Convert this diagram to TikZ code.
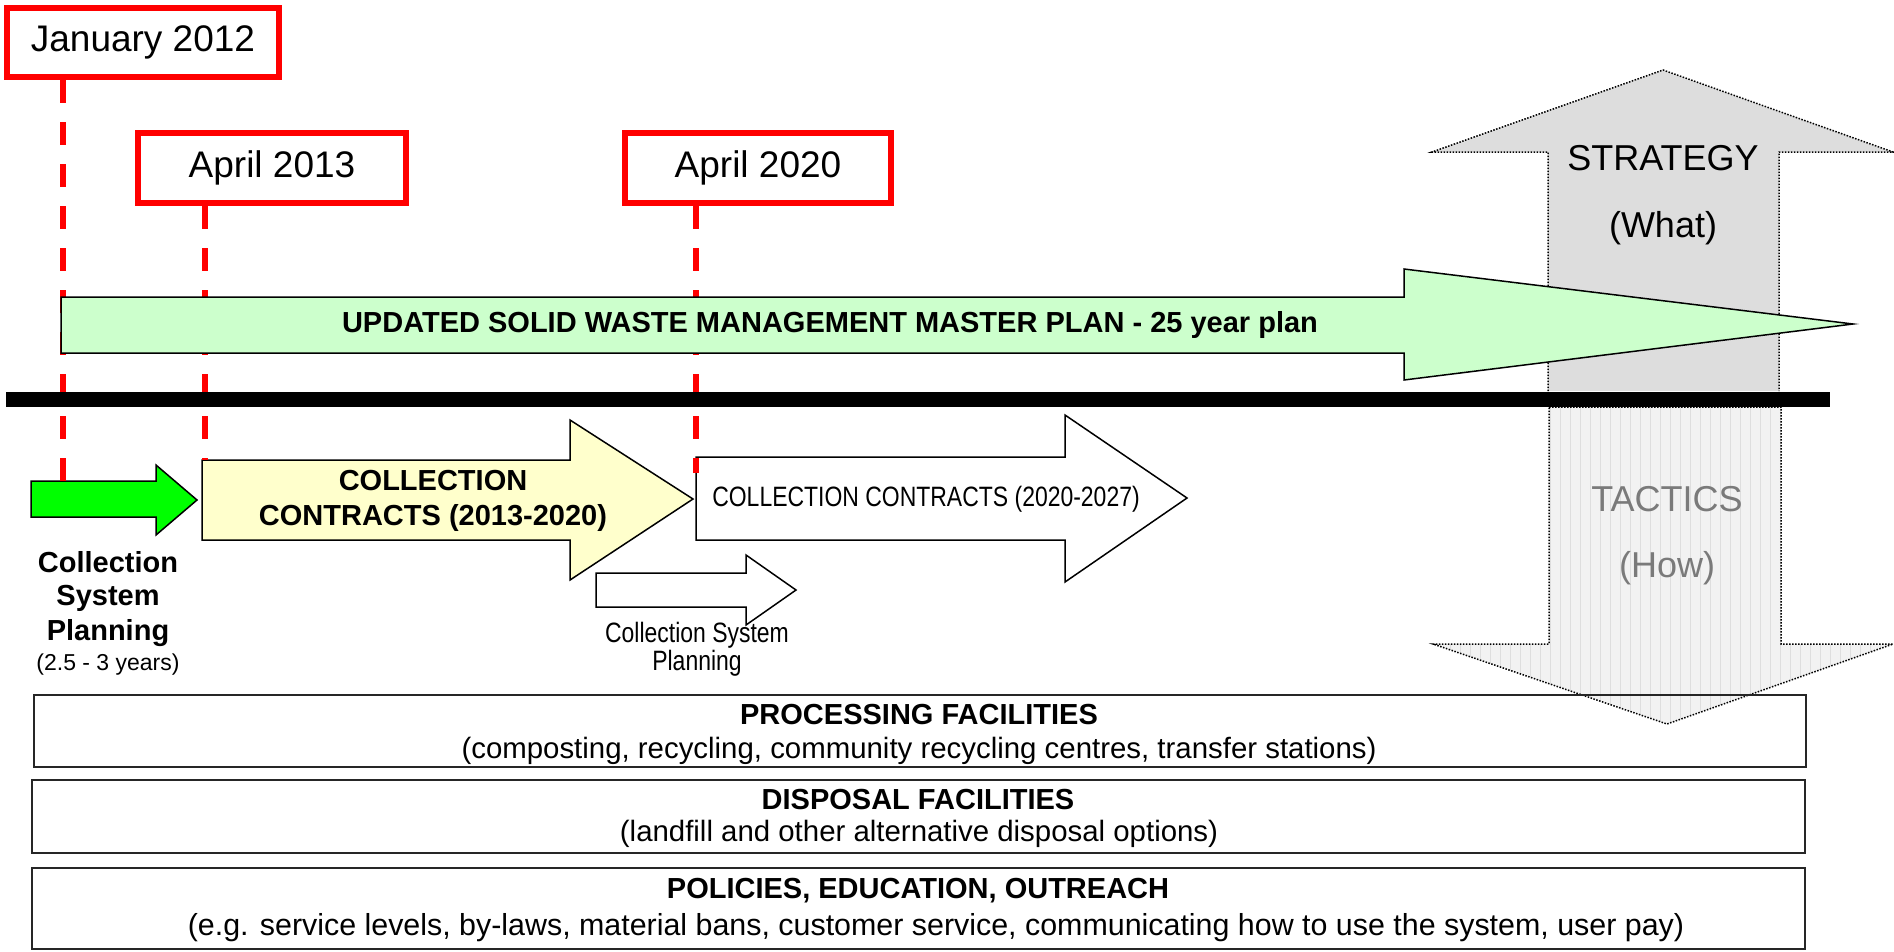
\documentclass[tikz,border=0pt]{standalone}
\usepackage{fontspec}
\setmainfont{Liberation Sans}
\newfontfamily\narrowfont{Liberation Sans}[FakeStretch=0.82]
\definecolor{mgreen}{HTML}{CCFFCC}
\definecolor{bgreen}{HTML}{00FF00}
\definecolor{pyellow}{HTML}{FFFFCC}
\definecolor{sgray}{HTML}{DDDDDD}
\definecolor{tgray}{HTML}{F2F2F2}
\definecolor{gridgray}{HTML}{DEDEDE}
\definecolor{dred}{HTML}{FF0000}
\tikzset{
  datebox/.style={draw=dred, line width=6, fill=white, inner sep=0, font=\fontsize{37}{44}\selectfont},
  datedash/.style={draw=dred, line width=6, dash pattern=on 23 off 19},
  arrowshape/.style={draw=black, line width=1.5, line join=miter},
  dotborder/.style={draw=black, line width=1.5, dash pattern=on 1.5 off 1.5},
  infobox/.style={draw=black!85, line width=1.5},
  boldtxt/.style={font=\fontsize{29}{35}\selectfont\bfseries, inner sep=0},
  normtxt/.style={font=\fontsize{29.4}{35}\selectfont, inner sep=0},
  bigtxt/.style={font=\fontsize{36}{43}\selectfont, inner sep=0},
  narrowtxt/.style={font=\fontsize{28}{28}\selectfont\narrowfont, inner sep=0, align=center},
}
\begin{document}
\begin{tikzpicture}[x=1pt,y=-1pt]
\useasboundingbox (0,0) rectangle (1894,951);

% Strategy (up) arrow
\fill[sgray] (1663,70) -- (1893,152) -- (1779,152) -- (1779,391) -- (1548,391) -- (1548,152) -- (1432,152) -- cycle;
\draw[dotborder] (1548,391) -- (1548,152) -- (1432,152) -- (1663,70) -- (1893,152) -- (1779,152) -- (1779,391);

% Tactics (down) arrow
\begin{scope}
\clip (1549,407) -- (1781,407) -- (1781,644) -- (1893,644) -- (1667,724) -- (1433,644) -- (1549,644) -- cycle;
\fill[tgray] (1420,400) rectangle (1894,730);
\draw[gridgray, line width=0.5, step=10] (1420,400) grid (1894,730);
\end{scope}
\draw[dotborder] (1549,407) -- (1781,407) -- (1781,644) -- (1893,644) -- (1667,724) -- (1433,644) -- (1549,644) -- cycle;

% bottom boxes
\draw[infobox] (34,695) rectangle (1806,767);
\draw[infobox] (32,780) rectangle (1805,853);
\draw[infobox] (32,868) rectangle (1805,949);

% lower arrows
\draw[arrowshape, fill=bgreen] (31,481) -- (156,481) -- (156,465) -- (197,500) -- (156,535) -- (156,517) -- (31,517) -- cycle;
\draw[arrowshape, fill=pyellow] (202,460) -- (570,460) -- (570,420) -- (693,499) -- (570,580) -- (570,540) -- (202,540) -- cycle;
\draw[arrowshape, fill=white] (696,457) -- (1065,457) -- (1065,415) -- (1187,498) -- (1065,582) -- (1065,540) -- (696,540) -- cycle;
\draw[arrowshape, fill=white] (596,573) -- (746,573) -- (746,555) -- (796,590) -- (746,625) -- (746,607) -- (596,607) -- cycle;

% date boxes
\node[datebox, minimum width=272, minimum height=69] (jan) at (143,42.5) {January 2012};
\node[datebox, minimum width=268, minimum height=70] (apr13) at (272,168) {April 2013};
\node[datebox, minimum width=266, minimum height=70] (apr20) at (758,168) {April 2020};

% dashed date lines
\coordinate (j1) at (63,80);   \coordinate (j2) at (63,481);
\coordinate (a1) at (205,206); \coordinate (a2) at (205,460);
\coordinate (b1) at (696,206); \coordinate (b2) at (696,473);
\draw[datedash] (j1) -- (j2);
\draw[datedash] (a1) -- (a2);
\draw[datedash] (b1) -- (b2);

% master plan arrow
\draw[arrowshape, fill=mgreen] (61,297) -- (1404,297) -- (1404,269) -- (1853,324) -- (1404,380) -- (1404,353) -- (61,353) -- cycle;
\node[boldtxt] (master) at (830,325) {UPDATED SOLID WASTE MANAGEMENT MASTER PLAN - 25 year plan};

% black divider
\fill[black] (6,392) rectangle (1830,407);

% strategy / tactics labels
\node[bigtxt] (strat) at (1663,158) {STRATEGY};
\node[bigtxt] (what) at (1663,228) {(What)};
\node[bigtxt, text=black!52] (tact) at (1667,499) {TACTICS};
\node[bigtxt, text=black!52] (how) at (1667,568) {(How)};

% lower arrow labels
\node[boldtxt] (csp1) at (108,562) {Collection};
\node[boldtxt] (csp2) at (108,598) {System};
\node[boldtxt] (csp3) at (108,633) {Planning};
\node[font=\fontsize{23}{28}\selectfont, inner sep=0] (csp4) at (108,665) {(2.5 - 3 years)};
\node[boldtxt] (cc1) at (433,481) {COLLECTION};
\node[boldtxt] (cc2) at (433,518) {CONTRACTS (2013-2020)};
\node[narrowtxt] (cc3) at (926,499) {COLLECTION CONTRACTS (2020-2027)};
\node[narrowtxt] (csp5) at (697,635) {Collection System};
\node[narrowtxt] (csp6) at (697,663) {Planning};

% box texts
\node[boldtxt] (proc1) at (919,715) {PROCESSING FACILITIES};
\node[normtxt] (proc2) at (919,751) {(composting, recycling, community recycling centres, transfer stations)};
\node[boldtxt] (disp1) at (918,800) {DISPOSAL FACILITIES};
\node[normtxt] (disp2) at (919,834) {(landfill and other alternative disposal options)};
\node[boldtxt] (pol1) at (918,891) {POLICIES, EDUCATION, OUTREACH};
\node[normtxt, font=\fontsize{30.4}{36}\selectfont] (pol2) at (936,928) {(e.g. service levels, by-laws, material bans, customer service, communicating how to use the system, user pay)};
\end{tikzpicture}
\end{document}
